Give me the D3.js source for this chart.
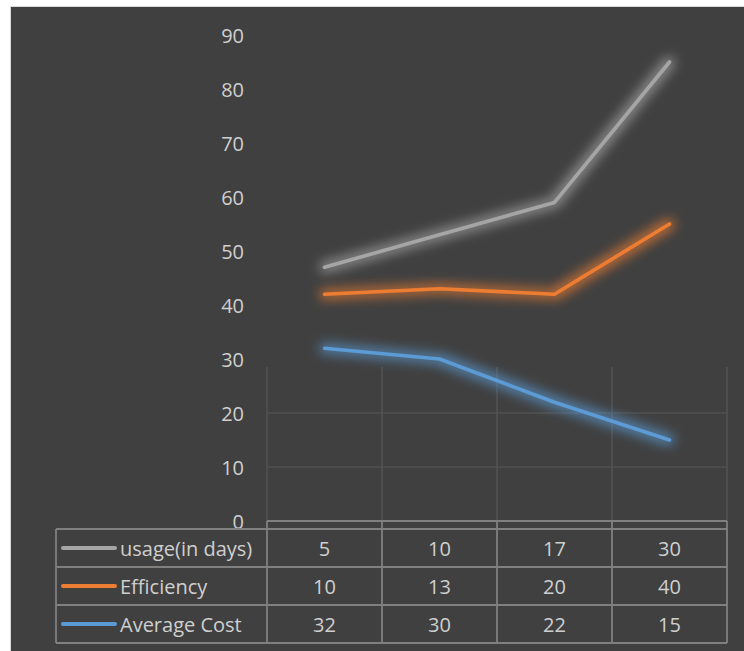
<!DOCTYPE html>
<html>
<head>
<meta charset="utf-8">
<script src="https://cdn.jsdelivr.net/npm/d3@7"></script>
<style>
  html, body { margin: 0; padding: 0; background: #fff; }
  svg { display: block; }
  text { font-family: 'Open Sans', Lato, sans-serif; fill: #cfcfcf; }
</style>
</head>
<body>
<svg id="chart" width="744" height="651"></svg>
<script>
// ── Data ──────────────────────────────────────────────
const categories = ['1', '2', '3', '4'];
const seriesNames = ['usage(in days)', 'Efficiency', 'Average Cost'];
const usage = [5, 10, 17, 30];
const efficiency = [10, 13, 20, 40];
const averageCost = [32, 30, 22, 15];
const yTicks = [0, 10, 20, 30, 40, 50, 60, 70, 80, 90];
const seriesColors = ['#a5a5a5', '#ed7d31', '#5b9bd5'];
// gridlines only show up below this value in the original
const gridTop = 28.5;

const seriesValues = [usage, efficiency, averageCost];

// stacked line chart: bottom series is Average Cost
const rows = categories.map((c, i) => ({
  cat: c,
  'usage(in days)': usage[i],
  'Efficiency': efficiency[i],
  'Average Cost': averageCost[i],
}));
const stackKeys = ['Average Cost', 'Efficiency', 'usage(in days)'];
const stacked = d3.stack().keys(stackKeys)(rows);

// ── Layout ────────────────────────────────────────────
const W = 744, H = 651;
const frame = { x: 10.5, y: 6.5 };
const plot = { left: 267, right: 727, top: 35, bottom: 521 };
const tableLeft = 56;
const catRowH = 8;
const rowH = 38;
const fontSize = 20;

const svg = d3.select('#chart');

const x = d3.scaleBand().domain(categories).range([plot.left, plot.right]);
const y = d3.scaleLinear().domain([0, 90]).range([plot.bottom, plot.top]);

// background
svg.append('rect')
  .attr('x', frame.x).attr('y', frame.y)
  .attr('width', W - frame.x + 1).attr('height', H - frame.y + 1)
  .attr('fill', '#404040')
  .attr('stroke', '#d9d9d9')
  .attr('stroke-width', 1);

// glow filters
const defs = svg.append('defs');
seriesColors.forEach((c, i) => {
  const f = defs.append('filter')
    .attr('id', `glow-${i}`)
    .attr('filterUnits', 'userSpaceOnUse')
    .attr('x', 0).attr('y', 0).attr('width', W).attr('height', H);
  f.append('feMorphology').attr('in', 'SourceGraphic').attr('operator', 'dilate').attr('radius', 3).attr('result', 'fat');
  f.append('feGaussianBlur').attr('in', 'fat').attr('stdDeviation', 6).attr('result', 'blur');
  f.append('feComponentTransfer').attr('in', 'blur').attr('result', 'soft')
    .append('feFuncA').attr('type', 'linear').attr('slope', 0.75);
  const m = f.append('feMerge');
  m.append('feMergeNode').attr('in', 'soft');
  m.append('feMergeNode').attr('in', 'SourceGraphic');
});

// ── Gridlines ─────────────────────────────────────────
const grid = svg.append('g').attr('stroke', '#585858').attr('stroke-width', 1.2);
grid.selectAll('line.h')
  .data(yTicks.filter(t => t > 0 && t <= gridTop))
  .join('line')
  .attr('x1', plot.left).attr('x2', plot.right)
  .attr('y1', d => y(d)).attr('y2', d => y(d));
grid.selectAll('line.v')
  .data(categories.map(c => x(c)).concat([x.range()[1]]))
  .join('line')
  .attr('x1', d => d).attr('x2', d => d)
  .attr('y1', y(gridTop)).attr('y2', y(0));

// ── Y axis labels ─────────────────────────────────────
svg.append('g')
  .selectAll('text')
  .data(yTicks)
  .join('text')
  .attr('x', 244)
  .attr('y', d => y(d))
  .attr('text-anchor', 'end')
  .attr('dominant-baseline', 'central')
  .attr('font-size', fontSize)
  .text(d => d);

// ── Data table ────────────────────────────────────────
const table = svg.append('g')
  .attr('stroke', '#808080').attr('stroke-width', 1.8).attr('fill', 'none');
const tTop = y(0) + catRowH;
const tBottom = tTop + rowH * seriesNames.length;
const colEdges = categories.map(c => x(c)).concat([x.range()[1]]);

// category row (empty)
table.append('line')
  .attr('x1', plot.left).attr('x2', plot.right)
  .attr('y1', y(0)).attr('y2', y(0));
colEdges.forEach(cx => {
  table.append('line')
    .attr('x1', cx).attr('x2', cx)
    .attr('y1', y(0)).attr('y2', tTop);
});
// horizontal rules
d3.range(seriesNames.length + 1).forEach(i => {
  table.append('line')
    .attr('x1', tableLeft).attr('x2', plot.right)
    .attr('y1', tTop + i * rowH).attr('y2', tTop + i * rowH);
});
// vertical rules
[tableLeft].concat(colEdges).forEach(cx => {
  table.append('line')
    .attr('x1', cx).attr('x2', cx)
    .attr('y1', tTop).attr('y2', tBottom);
});

// legend keys + names + values
const legend = svg.append('g');
seriesNames.forEach((name, i) => {
  const cy = tTop + i * rowH + rowH / 2;
  legend.append('line')
    .attr('x1', 63).attr('x2', 115)
    .attr('y1', cy).attr('y2', cy)
    .attr('stroke', seriesColors[i])
    .attr('stroke-width', 4)
    .attr('stroke-linecap', 'round');
  legend.append('text')
    .attr('x', 120).attr('y', cy)
    .attr('dominant-baseline', 'central')
    .attr('font-size', fontSize)
    .text(name);
  svg.append('g')
    .selectAll('text')
    .data(seriesValues[i])
    .join('text')
    .attr('x', (d, j) => x(categories[j]) + x.bandwidth() / 2)
    .attr('y', cy)
    .attr('text-anchor', 'middle')
    .attr('dominant-baseline', 'central')
    .attr('font-size', fontSize)
    .text(d => d);
});

// ── Lines ─────────────────────────────────────────────
const line = d3.line()
  .x(d => x(d.data.cat) + x.bandwidth() / 2)
  .y(d => y(d[1]));

stacked.forEach(layer => {
  const idx = seriesNames.indexOf(layer.key);
  svg.append('path')
    .datum(layer)
    .attr('d', line)
    .attr('fill', 'none')
    .attr('stroke', seriesColors[idx])
    .attr('stroke-width', 3.6)
    .attr('stroke-linecap', 'round')
    .attr('stroke-linejoin', 'round')
    .attr('filter', `url(#glow-${idx})`);
});
</script>
</body>
</html>
